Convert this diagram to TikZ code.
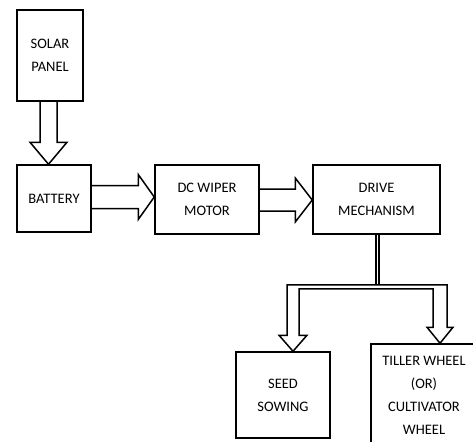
\documentclass[tikz,border=0pt]{standalone}
\usepackage{fontspec}
\setmainfont{Carlito}
\usetikzlibrary{calc}

\begin{document}
\begin{tikzpicture}[x=1pt,y=-1pt,line width=1.5pt,
    blok/.style={draw,inner sep=0pt,align=center,
      font=\fontsize{14.5}{23}\selectfont},
    pipe/.style={draw,line join=miter}]
  \useasboundingbox (0,0) rectangle (473,441);
  % bloki
  \node[blok,minimum width=66,minimum height=91] (solar) at (50,55.5) {SOLAR\\PANEL};
  \node[blok,minimum width=74,minimum height=67] (battery) at (54,198.5) {BATTERY};
  \node[blok,minimum width=104,minimum height=69] (motor) at (207,199.5) {DC WIPER\\MOTOR};
  \node[blok,minimum width=127,minimum height=69] (drive) at (376.5,199.5) {DRIVE\\MECHANISM};
  \node[blok,minimum width=94,minimum height=86] (seed) at (283,395) {SEED\\SOWING};
  \node[blok,minimum width=106,minimum height=103] (tiller) at (424,395.5) {TILLER WHEEL\\(OR)\\CULTIVATOR\\WHEEL};
  % strzalki
  \coordinate (s1) at ($(solar.south)+(-1.5,0)$);
  \coordinate (t1) at (s1 |- battery.north);
  \draw[pipe] ($(s1)+(-8.5,0)$) -- ($(t1)+(-8.5,-22)$) -- ($(t1)+(-18.5,-22)$)
    -- (t1) -- ($(t1)+(18.5,-22)$) -- ($(t1)+(8.5,-22)$) -- ($(s1)+(8.5,0)$);
  \coordinate (s2) at ($(battery.east)+(0,-1.5)$);
  \coordinate (t2) at (motor.west |- s2);
  \draw[pipe] ($(s2)+(0,-11.5)$) -- ($(t2)+(-16,-11.5)$) -- ($(t2)+(-16,-22.5)$)
    -- (t2) -- ($(t2)+(-16,22.5)$) -- ($(t2)+(-16,11.5)$) -- ($(s2)+(0,11.5)$);
  \coordinate (s3) at ($(motor.east)+(0,0.5)$);
  \coordinate (t3) at (drive.west |- s3);
  \draw[pipe] ($(s3)+(0,-11)$) -- ($(t3)+(-17,-11)$) -- ($(t3)+(-17,-22)$)
    -- (t3) -- ($(t3)+(-17,22)$) -- ($(t3)+(-17,11)$) -- ($(s3)+(0,11)$);
  % rozgalezienie
  \coordinate (bar) at ($(drive.south)+(1,50)$);
  \coordinate (seedtip) at ($(seed.north)+(10,0)$);
  \coordinate (tilltip) at ($(tiller.north)+(16,0)$);
  \draw[pipe] ($(drive.south)+(-0.5,0)$) -- ($(bar)+(-1.5,0)$);
  \draw[pipe] ($(drive.south)+(2.5,0)$) -- ($(bar)+(1.5,0)$);
  \draw[pipe] ($(seedtip)+(6,-16)$) -- ($(seedtip |- bar)+(6,4)$) -- ($(tilltip |- bar)+(-7,4)$)
    -- ($(tilltip)+(-7,-16)$) -- ($(tilltip)+(-13,-16)$) -- (tilltip) -- ($(tilltip)+(13,-16)$)
    -- ($(tilltip)+(7,-16)$) -- ($(tilltip |- bar)+(7,0)$) -- ($(seedtip |- bar)+(-6,0)$)
    -- ($(seedtip)+(-6,-16)$) -- ($(seedtip)+(-14,-16)$) -- (seedtip) -- ($(seedtip)+(14,-16)$) -- cycle;
\end{tikzpicture}
\end{document}
